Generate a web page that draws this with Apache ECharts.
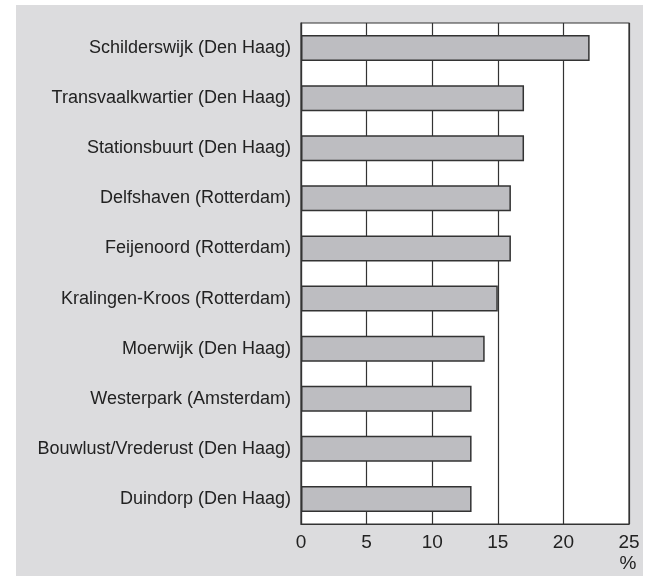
<!DOCTYPE html>
<html>
<head>
<meta charset="utf-8">
<script src="https://cdn.jsdelivr.net/npm/echarts@6/dist/echarts.min.js"></script>
<style>
  html, body { margin: 0; padding: 0; background: #fff; }
  #chart { width: 649px; height: 576px; }
</style>
</head>
<body>
<div id="chart"></div>
<script>
  // neighbourhoods, top to bottom
  const categories = [
    'Schilderswijk (Den Haag)', 'Transvaalkwartier (Den Haag)', 'Stationsbuurt (Den Haag)',
    'Delfshaven (Rotterdam)', 'Feijenoord (Rotterdam)', 'Kralingen-Kroos (Rotterdam)',
    'Moerwijk (Den Haag)', 'Westerpark (Amsterdam)', 'Bouwlust/Vrederust (Den Haag)', 'Duindorp (Den Haag)'
  ]
  const values = [22, 17, 17, 16, 16, 15, 14, 13, 13, 13]
  const unitLabel = '%'

  const font = '"Liberation Sans", Arial, sans-serif'
  const chart = echarts.init(document.getElementById('chart'))
  chart.setOption({
    animation: false,
    textStyle: {fontFamily: font},
    graphic: [
      {type: 'rect', z: -10, shape: {x: 16, y: 5, width: 627, height: 571}, style: {fill: '#dcdcde'}},
      {type: 'text', x: 628, y: 564, style: {text: unitLabel, font: '19px ' + font, fill: '#222', align: 'center', verticalAlign: 'middle'}},
    ],
    grid: {
      left: 301, right: 20, top: 23, bottom: 52,
      show: true, backgroundColor: '#fff', borderColor: '#333', borderWidth: 1.2,
    },
    xAxis: {
      type: 'value', min: 0, max: 25, interval: 5,
      axisLine: {show: true, lineStyle: {color: '#333', width: 1.2}},
      axisTick: {show: false},
      splitLine: {show: true, lineStyle: {color: '#333', width: 1.2}},
      axisLabel: {color: '#222', fontSize: 19, margin: 9, fontFamily: font},
    },
    yAxis: {
      type: 'category', data: categories, inverse: true,
      axisLine: {show: true, lineStyle: {color: '#333', width: 1.2}},
      axisTick: {show: false},
      axisLabel: {color: '#222', fontSize: 18, margin: 10, padding: [4, 0, 0, 0], fontFamily: font},
    },
    series: [{
      type: 'bar', data: values, barWidth: 26,
      itemStyle: {color: '#bdbdc1', borderColor: '#333', borderWidth: 1.5},
    }],
  })
</script>
</body>
</html>
